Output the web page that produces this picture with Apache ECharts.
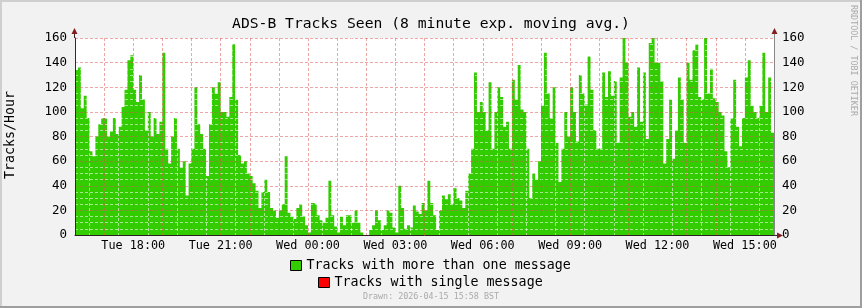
<!DOCTYPE html>
<html><head><meta charset="utf-8">
<script src="https://cdn.jsdelivr.net/npm/echarts@6/dist/echarts.min.js"></script>
<style>html,body{margin:0;padding:0;background:#f2f2f2}#c{width:862px;height:308px}</style>
</head><body><div id="c"></div>
<script>
// minutes since Tue 16:00, one value every 6 minutes
const stepMinutes = 6;
const spanMinutes = 1440;
const tracksMulti = [
  134,136,103,113,95,68,64,80,90,95,
  95,80,84,95,82,88,104,118,142,146,
  118,108,130,110,85,100,80,95,82,92,
  148,70,58,80,95,70,55,60,32,58,
  70,120,90,82,70,48,90,120,115,124,
  100,100,96,112,155,110,65,58,60,50,
  48,42,36,22,35,45,35,22,20,14,
  20,25,64,18,15,13,22,25,15,8,
  2,26,25,16,12,10,14,44,16,7,
  2,15,8,16,16,10,20,10,2,0,
  0,4,8,20,12,4,8,20,18,6,
  2,40,22,5,8,6,24,19,17,26,
  20,44,26,16,4,20,32,29,33,25,
  38,30,28,22,36,50,70,132,100,108,
  100,85,124,70,100,120,112,88,92,70,
  126,110,138,102,100,70,30,50,45,60,
  105,148,115,95,120,75,43,70,100,80,
  120,100,76,130,115,106,145,118,85,70,
  70,132,112,133,113,125,75,128,160,140,
  96,100,88,136,92,132,78,156,160,140,
  140,125,58,78,110,62,85,128,110,75,
  140,126,150,155,112,110,160,115,135,111,
  108,100,97,68,55,95,126,88,72,95,
  128,142,105,100,95,105,148,100,128,83
];
const tracksSingle = [];
const tickMinutes = [120,300,480,660,840,1020,1200,1380];
const tickLabels = ['Tue 18:00','Tue 21:00','Wed 00:00','Wed 03:00','Wed 06:00','Wed 09:00','Wed 12:00','Wed 15:00'];
const seriesNames = ['Tracks with more than one message','Tracks with single message'];
const titleText = 'ADS-B Tracks Seen (8 minute exp. moving avg.)';
const yTitle = 'Tracks/Hour';
const drawnText = 'Drawn: 2026-04-15 15:58 BST';
const watermark = 'RRDTOOL / TOBI OETIKER';

const MONO = 'DejaVu Sans Mono';
const multiData = tracksMulti.map((v,i)=>[i*stepMinutes, v]);
multiData.push([spanMinutes, tracksMulti[tracksMulti.length-1]]);
const singleData = tracksSingle.map((v,i)=>[i*stepMinutes, v]);

const MGRID = 'rgba(222,79,79,0.5)';
const GRID = 'rgba(255,255,255,0.55)';

const chart = echarts.init(document.getElementById('c'), null, {renderer:'canvas'});
chart.setOption({
  animation:false,
  backgroundColor:'#f2f2f2',
  title:{text:titleText,left:'center',top:17,padding:0,
    textStyle:{fontFamily:MONO,fontSize:14.7,fontWeight:'normal',color:'#000'}},
  grid:{left:75,right:88,top:38,bottom:73,show:true,backgroundColor:'#fff',borderWidth:0},
  legend:[
    {data:[seriesNames[0]],left:290,top:259,padding:0,itemWidth:11,itemHeight:10,icon:'rect',selectedMode:false,
      itemStyle:{borderColor:'#000',borderWidth:1},
      textStyle:{fontFamily:MONO,fontSize:13.3,color:'#000'}},
    {data:[seriesNames[1]],left:318,top:276,padding:0,itemWidth:11,itemHeight:10,icon:'rect',selectedMode:false,
      itemStyle:{borderColor:'#000',borderWidth:1},
      textStyle:{fontFamily:MONO,fontSize:13.3,color:'#000'}}
  ],
  xAxis:{type:'value',min:0,max:spanMinutes,interval:60,z:3,
    axisLine:{show:true,lineStyle:{color:'#2a2222',width:1}},
    axisTick:{show:false},
    axisLabel:{fontFamily:MONO,fontSize:11.8,color:'#000',margin:5,
      formatter:v=>{const k=tickMinutes.indexOf(v);return k>=0?tickLabels[k]:'';}},
    splitLine:{show:true,lineStyle:{color:MGRID,type:[3,2],width:1}},
    minorTick:{show:false,splitNumber:2},
    minorSplitLine:{show:true,lineStyle:{color:GRID,type:[3,2],width:1}}
  },
  yAxis:[
    {type:'value',min:0,max:160,interval:20,position:'left',z:3,
      axisLine:{show:true,lineStyle:{color:'#3a2626',width:1}},
      axisTick:{show:false},
      axisLabel:{fontFamily:MONO,fontSize:12.5,color:'#000',margin:8},
      splitLine:{show:true,lineStyle:{color:MGRID,type:[3,2],width:1}},
      minorTick:{show:false,splitNumber:4},
      minorSplitLine:{show:true,lineStyle:{color:GRID,type:[3,2],width:1}}
    },
    {type:'value',min:0,max:160,interval:20,position:'right',z:3,
      axisLine:{show:true,lineStyle:{color:'#888',width:1}},
      axisTick:{show:false},
      axisLabel:{fontFamily:MONO,fontSize:12.5,color:'#000',margin:8},
      splitLine:{show:false}
    }
  ],
  series:[
    {name:seriesNames[0],type:'line',step:'end',symbol:'none',data:multiData,z:2,
      color:'#33cc00',legendIcon:'rect',
      lineStyle:{width:0,opacity:0},areaStyle:{color:'#33cc00',opacity:1}},
    {name:seriesNames[1],type:'line',step:'end',symbol:'none',data:singleData,z:2,stack:'t',
      color:'#ff0000',legendIcon:'rect',
      lineStyle:{width:0,opacity:0},areaStyle:{color:'#ff0000',opacity:1}}
  ],
  graphic:[
    {type:'rect',shape:{x:0,y:0,width:862,height:2},style:{fill:'#cfcfcf'},silent:true},
    {type:'rect',shape:{x:0,y:0,width:2,height:308},style:{fill:'#cfcfcf'},silent:true},
    {type:'rect',shape:{x:860,y:0,width:2,height:308},style:{fill:'#9e9e9e'},silent:true},
    {type:'rect',shape:{x:0,y:306,width:862,height:2},style:{fill:'#9e9e9e'},silent:true},
    {type:'line',shape:{x1:74.5,y1:38,x2:74.5,y2:33},style:{stroke:'#3a2626',lineWidth:1},silent:true},
    {type:'line',shape:{x1:774.5,y1:38,x2:774.5,y2:33},style:{stroke:'#888',lineWidth:1},silent:true},
    {type:'line',shape:{x1:774,y1:235.5,x2:778,y2:235.5},style:{stroke:'#2a2222',lineWidth:1},silent:true},
    {type:'polygon',shape:{points:[[71.5,34],[77.5,34],[74.5,28]]},style:{fill:'#801f1f'},silent:true},
    {type:'polygon',shape:{points:[[771.5,34],[777.5,34],[774.5,28]]},style:{fill:'#801f1f'},silent:true},
    {type:'polygon',shape:{points:[[777,232.5],[777,238.5],[783,235.5]]},style:{fill:'#801f1f'},silent:true},
    {type:'text',x:11,y:135,rotation:Math.PI/2,silent:true,
      style:{text:yTitle,fontFamily:MONO,fontSize:13.3,fill:'#000',textAlign:'center',textVerticalAlign:'middle'}},
    {type:'text',x:431,y:297,silent:true,
      style:{text:drawnText,fontFamily:MONO,fontSize:8.4,fill:'#aaaaaa',textAlign:'center',textVerticalAlign:'middle'}},
    {type:'text',x:853,y:5,rotation:-Math.PI/2,silent:true,
      style:{text:watermark,fontFamily:MONO,fontSize:8.4,fill:'#aaaaaa',textAlign:'left',textVerticalAlign:'middle'}}
  ]
});
</script></body></html>
